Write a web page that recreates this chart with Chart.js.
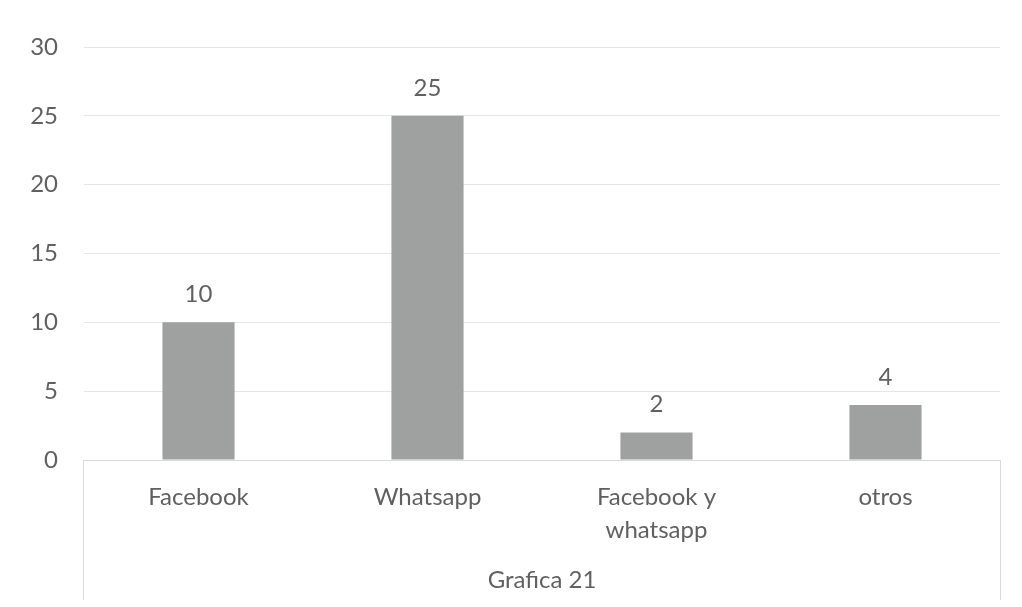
<!DOCTYPE html>
<html>
<head>
<meta charset="utf-8">
<script src="https://cdn.jsdelivr.net/npm/chart.js@4/dist/chart.umd.min.js"></script>
<style>
html,body{margin:0;padding:0;background:#fff;}
#wrap{width:1022px;height:607px;position:relative;}
</style>
</head>
<body>
<div id="wrap"><canvas id="c" width="1022" height="607"></canvas></div>
<script>
const categories = [["Facebook"], ["Whatsapp"], ["Facebook y", "whatsapp"], ["otros"]];
const values = [10, 25, 2, 4];
const yTicks = [0, 5, 10, 15, 20, 25, 30];
const chartTitle = "Grafica 21";

const textColor = "#606060";
const fontFamily = "Lato, 'Open Sans', sans-serif";

const valueLabels = {
  id: "valueLabels",
  afterDatasetsDraw(chart) {
    const ctx = chart.ctx;
    const meta = chart.getDatasetMeta(0);
    ctx.save();
    ctx.fillStyle = textColor;
    ctx.font = "24px " + fontFamily;
    ctx.textAlign = "center";
    ctx.textBaseline = "alphabetic";
    meta.data.forEach((bar, i) => {
      ctx.fillText(String(values[i]), bar.x, bar.y - 20);
    });
    ctx.restore();
  }
};

const boxLines = {
  id: "boxLines",
  beforeDatasetsDraw(chart) {
    const ctx = chart.ctx;
    const a = chart.chartArea;
    ctx.save();
    ctx.strokeStyle = "#dadada";
    ctx.lineWidth = 1;
    ctx.beginPath();
    ctx.moveTo(a.left - 0.5, a.bottom);
    ctx.lineTo(a.left - 0.5, 600);
    ctx.moveTo(a.right + 0.5, a.bottom);
    ctx.lineTo(a.right + 0.5, 600);
    ctx.stroke();
    ctx.restore();
  }
};

new Chart(document.getElementById("c"), {
  type: "bar",
  data: {
    labels: categories,
    datasets: [{
      data: values,
      backgroundColor: "#9fa1a0",
      borderWidth: 0,
      barPercentage: 0.63,
      categoryPercentage: 0.5
    }]
  },
  options: {
    responsive: false,
    animation: false,
    devicePixelRatio: 1,
    layout: { padding: { top: 47, right: 22, bottom: 0, left: 0 } },
    plugins: { legend: { display: false }, tooltip: { enabled: false }, title: { display: false } },
    scales: {
      y: {
        min: 0, max: 30,
        afterBuildTicks(scale) { scale.ticks = yTicks.map(v => ({ value: v })); },
        afterFit(scale) { scale.width = 84; },
        border: { display: false },
        grid: { color: "#e6e6e6", drawTicks: false, lineWidth: 1 },
        ticks: { color: textColor, font: { family: fontFamily, size: 24 }, padding: 26 }
      },
      x: {
        afterFit(scale) { scale.height = 147; },
        border: { display: true, color: "#d9d9d9" },
        grid: { display: false, drawTicks: false },
        ticks: { color: textColor, font: { family: fontFamily, size: 24, lineHeight: 1.4 }, padding: 20, maxRotation: 0, autoSkip: false },
        title: { display: true, text: chartTitle, color: textColor, font: { family: fontFamily, size: 24 }, padding: { top: 0, bottom: 12 } }
      }
    }
  },
  plugins: [boxLines, valueLabels]
});
</script>
</body>
</html>
